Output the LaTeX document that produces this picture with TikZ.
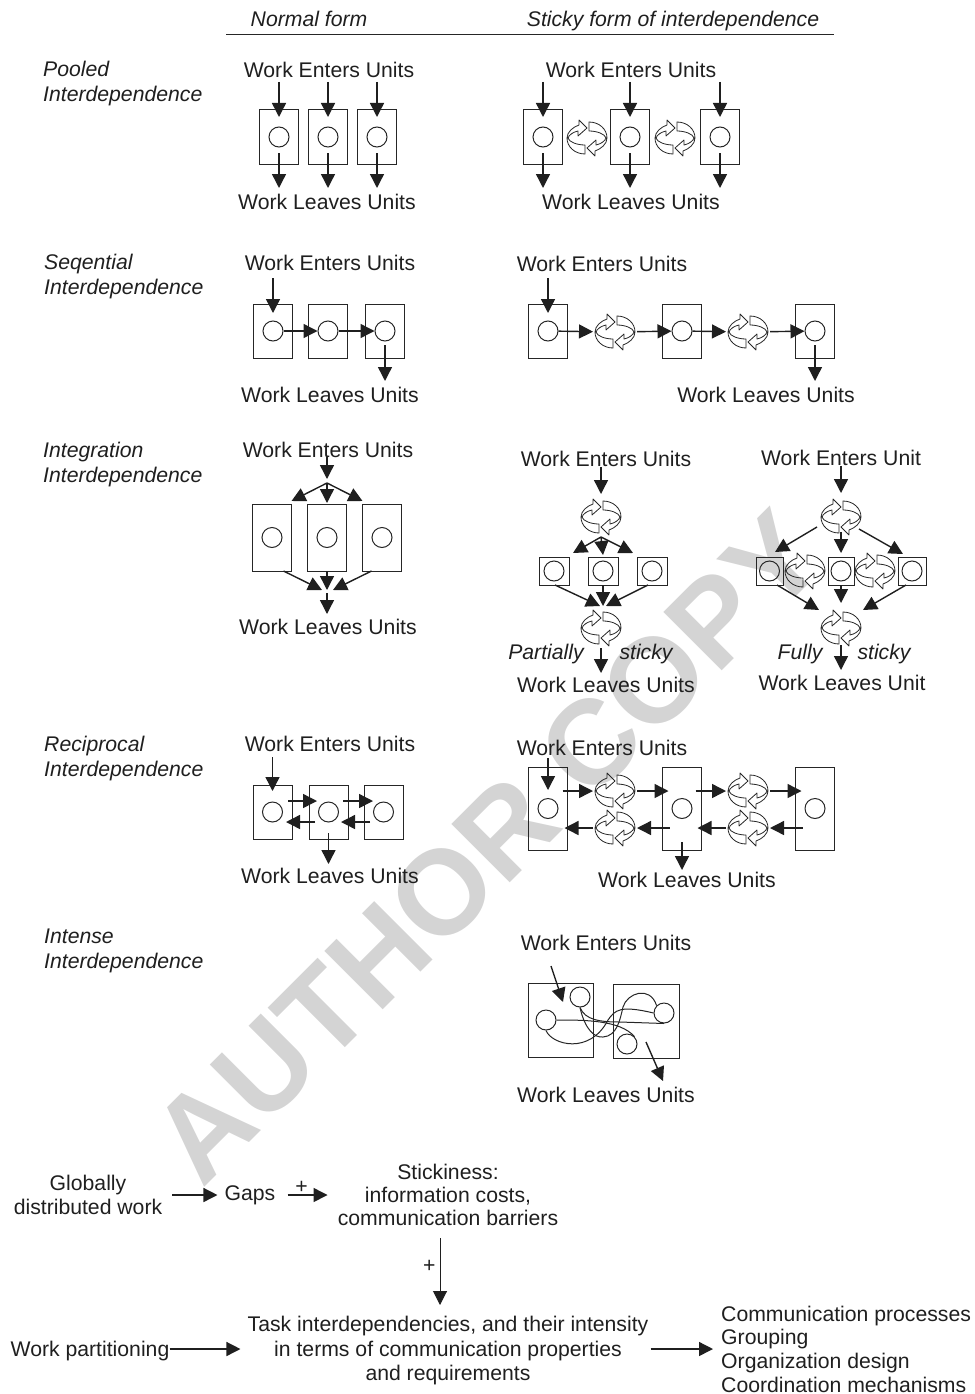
\documentclass[tikz,border=0pt]{standalone}
\usepackage{fontspec}
\setmainfont{Liberation Sans}
\usetikzlibrary{arrows.meta, positioning, calc}
% one turning arrow pair, with a node to draw connectors to
\newcommand{\cycnode}[2]{%
  \node[cyc] (#1) at (#2) {};
  \pic at (#1) {turn};
  \pic[rotate=180] at (#1) {turn};
}

\begin{document}
\begin{tikzpicture}[
  x=1pt, y=-1pt,
  lab/.style={inner sep=0pt, text=black!88, font=\fontsize{21.2}{24.5}\selectfont},
  ilab/.style={lab, font=\fontsize{21.2}{25}\selectfont\itshape, align=left, anchor=west},
  itxt/.style={lab, font=\fontsize{21.2}{25}\selectfont\itshape},
  unit/.style={rectangle, draw=black!85, line width=1pt, outer sep=0pt, inner sep=0pt, minimum width=39pt, minimum height=54pt},
  tallunit/.style={unit, minimum height=67pt},
  longunit/.style={unit, minimum height=83pt},
  smallunit/.style={unit, minimum width=30pt, minimum height=28pt},
  dot/.style={circle, draw=black!85, line width=1pt, inner sep=0pt, minimum size=20pt},
  cyc/.style={rectangle, inner sep=0pt, outer sep=0pt, minimum width=44pt, minimum height=40pt},
  turn/.pic={
    \draw[line width=0.8pt, black!85, line join=round]
      (2,-16) .. controls (12,-16) and (20,-9) .. (20,0)
      .. controls (20,6) and (14,11) .. (8,13) -- (8,18) -- (0,10) -- (9,2) -- (9,7)
      .. controls (14,6) and (18,3) .. (19,0)
      .. controls (18,-4) and (10,-7) .. (2,-7) -- cycle;
  },
  arr/.style={-{Triangle[length=14pt,width=14pt]}, line width=1.4pt, black!88},
  wire/.style={line width=1pt, black!85}
]
\useasboundingbox (0,0) rectangle (974,1394);

% watermark first, everything sits on it
\node[inner sep=0pt, rotate=45, text=black!17, font=\fontsize{120}{120}\selectfont\bfseries] (wm) at (487,847) {AUTHOR COPY};

% headings
\node[itxt] (hn) at (309,19) {Normal form};
\node[itxt] (hs) at (673,21) {Sticky form of interdependence};
\coordinate (hl) at (226,35);
\coordinate (hr) at (834,35);
\draw[wire] (hl) -- (hr);

\node[ilab] (lp) at (43,84) {Pooled\\Interdependence};
\node[ilab] (lq) at (44,277) {Seqential\\Interdependence};
\node[ilab] (li) at (43,465) {Integration\\Interdependence};
\node[ilab] (lr) at (44,759) {Reciprocal\\Interdependence};
\node[ilab] (lt) at (44,951) {Intense\\Interdependence};

% pooled, normal
\node[lab] (pe) at (329,70) {Work Enters Units};
\node[lab] (pl) at (327,202) {Work Leaves Units};
\node[unit] (p1) at (279,137) {};
\node[unit, right=10pt of p1] (p2) {};
\node[unit, right=10pt of p2] (p3) {};
\node[dot] (p1c) at (p1) {};
\node[dot] (p2c) at (p2) {};
\node[dot] (p3c) at (p3) {};
\draw[arr] ([yshift=28pt]p1.north) -- ([yshift=-7pt]p1.north);
\draw[arr] ([yshift=28pt]p2.north) -- ([yshift=-7pt]p2.north);
\draw[arr] ([yshift=28pt]p3.north) -- ([yshift=-7pt]p3.north);
\draw[arr] ([yshift=11pt]p1.south) -- ([yshift=-24pt]p1.south);
\draw[arr] ([yshift=11pt]p2.south) -- ([yshift=-24pt]p2.south);
\draw[arr] ([yshift=11pt]p3.south) -- ([yshift=-24pt]p3.south);

% pooled, sticky
\node[lab] (pse) at (631,70) {Work Enters Units};
\node[lab] (psl) at (631,202) {Work Leaves Units};
\node[unit] (ps1) at (543,137) {};
\node[unit, right=48pt of ps1] (ps2) {};
\node[unit, right=51pt of ps2] (ps3) {};
\node[dot] (ps1c) at (ps1) {};
\node[dot] (ps2c) at (ps2) {};
\node[dot] (ps3c) at (ps3) {};
\cycnode{pc1}{587,138}
\cycnode{pc2}{675,138}
\draw[arr] ([yshift=28pt]ps1.north) -- ([yshift=-7pt]ps1.north);
\draw[arr] ([yshift=28pt]ps2.north) -- ([yshift=-7pt]ps2.north);
\draw[arr] ([yshift=28pt]ps3.north) -- ([yshift=-7pt]ps3.north);
\draw[arr] ([yshift=11pt]ps1.south) -- ([yshift=-24pt]ps1.south);
\draw[arr] ([yshift=11pt]ps2.south) -- ([yshift=-24pt]ps2.south);
\draw[arr] ([yshift=11pt]ps3.south) -- ([yshift=-24pt]ps3.south);

% sequential, normal
\node[lab] (qe) at (330,263) {Work Enters Units};
\node[lab] (ql) at (330,395) {Work Leaves Units};
\node[unit] (q1) at (273,331) {};
\node[unit, right=16pt of q1] (q2) {};
\node[unit, right=18pt of q2] (q3) {};
\node[dot] (q1c) at (q1) {};
\node[dot] (q2c) at (q2) {};
\node[dot] (q3c) at (q3) {};
\draw[arr] ([yshift=26pt]q1.north) -- ([yshift=-9pt]q1.north);
\draw[arr] (q1c) -- (q2c);
\draw[arr] (q2c) -- (q3c);
\draw[arr] ([yshift=13pt]q3.south) -- ([yshift=-23pt]q3.south);

% sequential, sticky
\node[lab] (qse) at (602,264) {Work Enters Units};
\node[lab] (qsl) at (766,395) {Work Leaves Units};
\node[unit] (qs1) at (548,331) {};
\node[unit, right=95pt of qs1] (qs2) {};
\node[unit, right=94pt of qs2] (qs3) {};
\node[dot] (qs1c) at (qs1) {};
\node[dot] (qs2c) at (qs2) {};
\node[dot] (qs3c) at (qs3) {};
\cycnode{qc1}{615,332}
\cycnode{qc2}{748,332}
\draw[arr] ([yshift=26pt]qs1.north) -- ([yshift=-9pt]qs1.north);
\draw[arr] (qs1c) -- (qc1);
\draw[arr] (qc1) -- (qs2c);
\draw[arr] (qs2c) -- (qc2);
\draw[arr] (qc2) -- (qs3c);
\draw[arr] ([yshift=13pt]qs3.south) -- ([yshift=-23pt]qs3.south);

% integration, normal
\node[lab] (ie) at (328,450) {Work Enters Units};
\node[lab] (il) at (328,627) {Work Leaves Units};
\node[tallunit] (i1) at (272,537.5) {};
\node[tallunit, right=16pt of i1] (i2) {};
\node[tallunit, right=16pt of i2] (i3) {};
\node[dot] (i1c) at (i1) {};
\node[dot] (i2c) at (i2) {};
\node[dot] (i3c) at (i3) {};
\coordinate (ia) at (327,483);
\coordinate (ib) at (327,592);
\draw[arr] ([yshift=1pt]ie.south -| ia) -- ([yshift=4pt]ia);
\draw[arr] (ia) -- ([yshift=3pt]i1.north east);
\draw[arr] (ia) -- ([yshift=1pt]i2.north);
\draw[arr] (ia) -- ([yshift=3pt]i3.north west);
\draw[arr] ([xshift=-8pt]i1.south east) -- ([xshift=-5pt,yshift=2pt]ib);
\draw[arr] (i2.south) -- ([yshift=2pt]ib);
\draw[arr] ([xshift=9pt]i3.south west) -- ([xshift=6pt,yshift=2pt]ib);
\draw[arr] ([yshift=-1pt]ib) -- ([yshift=-22pt]ib);

% integration, partially sticky
\node[lab] (ae) at (606,459) {Work Enters Units};
\node[lab] (al) at (606,685) {Work Leaves Units};
\node[itxt] (at1) at (546,654) {Partially};
\node[itxt] (at2) at (646,654) {sticky};
\cycnode{ac1}{601,517}
\cycnode{ac2}{601,628}
\node[smallunit] (a1) at (554,571) {};
\node[smallunit, right=19pt of a1] (a2) {};
\node[smallunit, right=19pt of a2] (a3) {};
\node[dot] (a1c) at (a1) {};
\node[dot] (a2c) at (a2) {};
\node[dot] (a3c) at (a3) {};
\draw[arr] (ae.south -| ac1) -- ([yshift=3pt]ac1.north);
\draw[arr] (ac1.south) -- ([xshift=4pt,yshift=4pt]a1.north east);
\draw[arr] (ac1.south) -- ([yshift=2pt]a2.north);
\draw[arr] (ac1.south) -- ([xshift=-4pt,yshift=4pt]a3.north west);
\draw[arr] ([xshift=1pt]a1.south) -- ([xshift=-1pt,yshift=2pt]ac2.north);
\draw[arr] (a2.south) -- ([xshift=2pt,yshift=2pt]ac2.north);
\draw[arr] ([xshift=-4pt]a3.south) -- ([xshift=5pt,yshift=2pt]ac2.north);
\draw[arr] (ac2.south) -- ([yshift=-25pt]ac2.south);

% integration, fully sticky
\node[lab] (fe) at (841,458) {Work Enters Unit};
\node[lab] (fl) at (842,683) {Work Leaves Unit};
\node[itxt] (ft1) at (800,654) {Fully};
\node[itxt] (ft2) at (884,654) {sticky};
\cycnode{fc1}{841,517}
\cycnode{fc2}{841,628}
\node[smallunit, minimum width=27pt] (f1) at (769.5,571) {};
\node[smallunit, minimum width=26pt] (f2) at (841,571) {};
\node[smallunit, minimum width=28pt] (f3) at (912,571) {};
\node[dot] (f1c) at (f1) {};
\node[dot] (f2c) at (f2) {};
\node[dot] (f3c) at (f3) {};
\cycnode{fc3}{805,571}
\cycnode{fc4}{875,571}
\draw[arr] (fe.south -| fc1) -- ([yshift=4pt]fc1.north);
\draw[arr] ([xshift=-2pt,yshift=-10pt]fc1.west) -- ([xshift=-8pt,yshift=5pt]f1.north east);
\draw[arr] ([yshift=5pt]fc1.south) -- ([yshift=4pt]f2.north);
\draw[arr] ([xshift=-4pt,yshift=-12pt]fc1.east) -- ([xshift=5pt,yshift=3pt]f3.north west);
\draw[arr] ([xshift=-6pt]f1.south east) -- ([yshift=18pt]fc2.west);
\draw[arr] (f2.south) -- ([yshift=5pt]fc2.north);
\draw[arr] ([xshift=-6pt]f3.south) -- ([yshift=18pt]fc2.east);
\draw[arr] ([yshift=3pt]fc2.south) -- ([yshift=-22pt]fc2.south);

% reciprocal, normal
\node[lab] (re) at (330,744) {Work Enters Units};
\node[lab] (rl) at (330,876) {Work Leaves Units};
\node[unit] (r1) at (272.5,812) {};
\node[unit, right=17pt of r1] (r2) {};
\node[unit, right=16pt of r2] (r3) {};
\node[dot] (r1c) at (r1) {};
\node[dot] (r2c) at (r2) {};
\node[dot] (r3c) at (r3) {};
\draw[arr] ([yshift=28pt]r1.north) -- ([yshift=-6pt]r1.north);
\draw[arr] ([xshift=-4pt,yshift=11pt]r1.east) -- ([xshift=8pt,yshift=11pt]r2.west);
\draw[arr] ([xshift=-5pt,yshift=11pt]r2.east) -- ([xshift=9pt,yshift=11pt]r3.west);
\draw[arr] ([xshift=6pt,yshift=-10pt]r2.west) -- ([xshift=-6pt,yshift=-10pt]r1.east);
\draw[arr] ([xshift=6pt,yshift=-10pt]r3.west) -- ([xshift=-7pt,yshift=-10pt]r2.east);
\draw[arr] ([yshift=6pt]r2.south) -- ([yshift=-25pt]r2.south);

% reciprocal, sticky
\node[lab] (rse) at (602,748) {Work Enters Units};
\node[lab] (rsl) at (687,880) {Work Leaves Units};
\node[longunit] (rs1) at (548,808.5) {};
\node[longunit, right=95pt of rs1] (rs2) {};
\node[longunit, right=94pt of rs2] (rs3) {};
\node[dot] (rs1c) at (rs1) {};
\node[dot] (rs2c) at (rs2) {};
\node[dot] (rs3c) at (rs3) {};
\cycnode{rc1}{615,791}
\cycnode{rc2}{748,791}
\cycnode{rc3}{615,828}
\cycnode{rc4}{748,828}
\draw[arr] ([yshift=9pt]rs1.north) -- ([yshift=-23pt]rs1.north);
\draw[arr] ([xshift=-5pt,yshift=17.5pt]rs1.east) -- (rc1.west);
\draw[arr] (rc1.east) -- ([xshift=6pt,yshift=17.5pt]rs2.west);
\draw[arr] ([xshift=-6pt,yshift=17.5pt]rs2.east) -- (rc2.west);
\draw[arr] (rc2.east) -- ([xshift=6pt,yshift=17.5pt]rs3.west);
\draw[arr] (rc3.west) -- ([xshift=-3pt,yshift=-19.5pt]rs1.east);
\draw[arr] ([xshift=7pt,yshift=-19.5pt]rs2.west) -- (rc3.east);
\draw[arr] (rc4.west) -- ([xshift=-4pt,yshift=-19.5pt]rs2.east);
\draw[arr] ([xshift=7pt,yshift=-19.5pt]rs3.west) -- (rc4.east);
\draw[arr] ([yshift=8pt]rs2.south) -- ([yshift=-20pt]rs2.south);

% intense
\node[lab] (te) at (606,943) {Work Enters Units};
\node[lab] (tl) at (606,1095) {Work Leaves Units};
\node[unit, minimum width=65pt, minimum height=74pt] (t1) at (560.5,1020) {};
\node[unit, minimum width=66pt, minimum height=74pt] (t2) at (646,1021) {};
\node[dot] (tc1) at (580,997) {};
\node[dot] (tc2) at (546,1020) {};
\node[dot] (tc3) at (664,1013) {};
\node[dot] (tc4) at (627,1044) {};
\coordinate (ta) at (551,966);
\coordinate (tb) at (563,1002);
\coordinate (tc) at (646,1042);
\coordinate (td) at (663,1081);
\draw[arr] (ta) -- (tb);
\draw[arr] (tc) -- (td);
\draw[wire] (tc2.east) .. controls (585,1020) and (620,1020) .. (tc4.north east);
\draw[wire] (tc2.south) .. controls (552,1045) and (590,1055) .. (608,1020) .. controls (615,1010) and (620,1005) .. (tc3.west);
\draw[wire] (tc1.south) .. controls (585,1030) and (595,1038) .. (603,1037) .. controls (617,1036) and (620,1020) .. (623,1007) .. controls (627,993) and (650,985) .. (tc3.north west);
\draw[wire] (tc1.south) .. controls (585,1020) and (600,1022) .. (620,1022) -- (tc3.south);

% lower chain
\node[lab, align=center] (gw) at (88,1195) {Globally\\distributed work};
\node[lab] (gp) at (250,1195) {Gaps};
\node[lab, align=center] (st) at (448,1195) {Stickiness:\\[-1.3pt]information costs,\\[-1.3pt]communication barriers};
\node[lab, align=center] (ti) at (448,1351) {Task interdependencies, and their intensity\\in terms of communication properties\\and requirements};
\node[lab] (wp) at (90,1351) {Work partitioning};
\node[lab, align=left, anchor=west] (cp) at (721,1349) {Communication processes\\[-.8pt]Grouping\\[-.8pt]Organization design\\[-.8pt]Coordination mechanisms};
\coordinate (sa) at (440,1238);
\coordinate (sb) at (440,1305);
\draw[arr] ([xshift=10pt]gw.east |- gp) -- ([xshift=-7pt]gp.west);
\draw[arr] ([xshift=12pt]gp.east) -- node[lab, above=1pt, pos=.35] (pl1) {+} ([xshift=52pt]gp.east);
\draw[arr, line width=1pt] (sa) -- node[lab, left=4pt, pos=.42] (pl2) {+} (sb);
\draw[arr] ([yshift=2pt]wp.east) -- ([xshift=-7pt,yshift=2pt]ti.west);
\draw[arr] ([xshift=2pt,yshift=2pt]ti.east) -- ([xshift=-8pt]cp.west);
\end{tikzpicture}
\end{document}
